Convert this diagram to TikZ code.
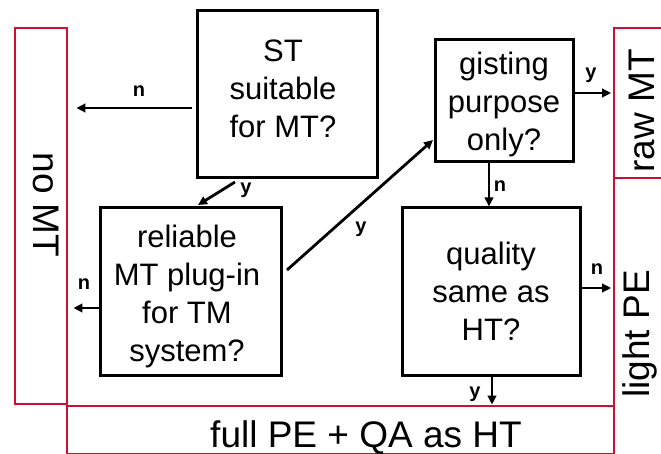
\documentclass[tikz,border=0pt]{standalone}
\usepackage{fontspec}
\setmainfont{Liberation Sans}
\usetikzlibrary{arrows.meta,calc}
\definecolor{redline}{RGB}{204,16,52}
\begin{document}
\begin{tikzpicture}[x=1pt,y=-1pt,
  qbox/.style={draw, line width=3pt, inner sep=0pt},
  outbox/.style={draw=redline, line width=2.8pt, inner sep=0pt},
  qtext/.style={anchor=base, inner sep=0pt, font=\fontsize{31}{38}\selectfont},
  otext/.style={inner sep=0pt, font=\fontsize{37}{44}\selectfont},
  lab/.style={anchor=base, inner sep=0pt, font=\fontsize{20}{24}\selectfont\bfseries},
  arr/.style={line width=2.8pt, -{Triangle[length=9pt,width=8.5pt]}}
]
\useasboundingbox (0,0) rectangle (661,454);

% question boxes
\node[qbox, minimum width=180pt, minimum height=167pt] (st) at (287,94.5) {};
\node[qbox, minimum width=181pt, minimum height=167pt] (rel) at (190.5,291.5) {};
\node[qbox, minimum width=138pt, minimum height=122pt] (gist) at (504,101) {};
\node[qbox, minimum width=178pt, minimum height=167pt] (qual) at (491,291.5) {};

% outcome boxes
\node[outbox, minimum width=52pt, minimum height=376pt] (nomt) at (41,216) {};
\node[outbox, minimum width=547pt, minimum height=48.5pt] (fullpe) at (340.5,430.25) {};
\node[outbox, minimum width=54pt, minimum height=150pt] (rawmt) at (641,103) {};
\node[outbox, minimum width=54pt, minimum height=290pt] (lightpe) at (641,323) {};

% question texts
\node[qtext] (stt) at (283,62) {\begin{tabular}[t]{@{}c@{}}ST\\suitable\\for MT?\end{tabular}};
\node[qtext] (relt) at (187,248) {\begin{tabular}[t]{@{}c@{}}reliable\\MT plug-in\\for TM\\system?\end{tabular}};
\node[qtext] (gistt) at (504,75) {\begin{tabular}[t]{@{}c@{}}gisting\\purpose\\only?\end{tabular}};
\node[qtext] (qualt) at (491,265) {\begin{tabular}[t]{@{}c@{}}quality\\same as\\HT?\end{tabular}};

% outcome texts
\node[otext, rotate=-90] (nomtt) at (46,205) {no MT};
\node[otext, rotate=90] (rawmtt) at (642,111) {raw MT};
\node[otext, rotate=90] (lightpet) at (640,334) {light PE};
\node[otext, anchor=base] (fullpet) at (366,447) {full PE + QA as HT};

% connectors
\draw[arr] ($(st.west)+(-4,13.5)$) -- ($(nomt.east |- st.west)+(8,13.5)$);
\draw[arr] ($(st.south)+(-52,2.5)$) -- ($(rel.north)+(7.5,-1.5)$);
\draw[arr] ($(rel.west)+(0.5,16.5)$) -- ($(nomt.east |- rel.west)+(5,16.5)$);
\draw[arr] ($(rel.east)+(4.5,-21.5)$) -- ($(gist.west)+(-0.5,39)$);
\draw[arr] ($(gist.east)+(-1.5,-8)$) -- ($(rawmt.west |- gist.east)+(-1.5,-8)$);
\draw[arr] ($(gist.south)+(-15,-1.5)$) -- ($(qual.north)+(-2,0)$);
\draw[arr] ($(qual.east)+(-1.5,-3.5)$) -- ($(lightpe.west |- qual.east)+(-1.5,-3.5)$);
\draw[arr] ($(qual.south)+(1,-1.5)$) -- ($(qual.south |- fullpe.north)+(1,0)$);

% connector labels
\node[lab] (l1) at (139,97) {n};
\node[lab] (l2) at (246,194) {y};
\node[lab] (l3) at (84,290) {n};
\node[lab] (l4) at (361,233) {y};
\node[lab] (l5) at (591,79) {y};
\node[lab] (l6) at (500,192) {n};
\node[lab] (l7) at (597,275) {n};
\node[lab] (l8) at (475,397) {y};
\end{tikzpicture}
\end{document}
